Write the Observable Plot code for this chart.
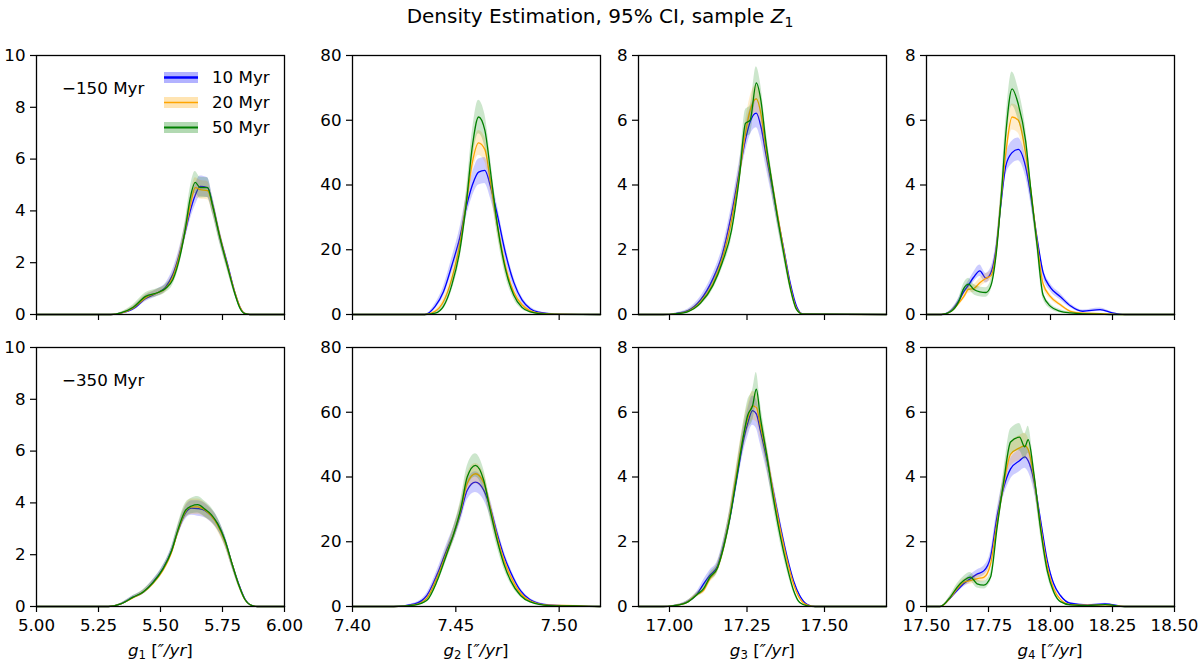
<!DOCTYPE html>
<html>
<head>
<meta charset="utf-8">
<script src="https://cdn.jsdelivr.net/npm/d3@7"></script>
<script src="https://cdn.jsdelivr.net/npm/@observablehq/plot@0.6"></script>
<style>
  body { margin: 0; background: #fff; font-family: "DejaVu Sans", sans-serif; }
  #fig { position: relative; width: 1200px; height: 661px; overflow: hidden; }
  .txt { position: absolute; font-size: 16.7px; line-height: 20px; white-space: nowrap; color: #000; }
  .title { position: absolute; left: 0; width: 1200px; top: 4px; text-align: center; font-size: 20px; line-height: 24px; }
  sub { font-size: 0.7em; vertical-align: -0.25em; line-height: 0; }
  .leg { position: absolute; height: 20px; }
</style>
</head>
<body>
<div id="fig"></div>
<script>
// series + per-panel settings
const series = ["10 Myr", "20 Myr", "50 Myr"];
const colors = ["blue", "orange", "green"];
const epochs = ["\u2212150 Myr", "\u2212350 Myr"];
const xDomains = [[5, 6], [7.4, 7.52], [16.9, 17.7], [17.5, 18.5]];
const xTicks = [[5, 5.25, 5.5, 5.75, 6], [7.4, 7.45, 7.5], [17, 17.25, 17.5], [17.5, 17.75, 18, 18.25, 18.5]];
const yDomains = [[0, 10], [0, 80], [0, 8], [0, 8]];
const yTicks = [[0, 2, 4, 6, 8, 10], [0, 20, 40, 60, 80], [0, 2, 4, 6, 8], [0, 2, 4, 6, 8]];

// ---- -150 Myr row ----
const g1_150_x = [5.0, 5.30, 5.34, 5.39, 5.44, 5.49, 5.52, 5.55, 5.58, 5.60, 5.62, 5.64, 5.66, 5.69, 5.71, 5.74, 5.77, 5.80, 5.82, 5.84, 5.86, 6.0];
const g1_150_10 = [0, 0, 0.05, 0.22, 0.62, 0.85, 1.05, 1.55, 2.45, 3.2, 4.0, 4.6, 4.95, 4.9, 4.25, 3.0, 1.95, 0.85, 0.3, 0.04, 0, 0];
const g1_150_20 = [0, 0, 0.05, 0.25, 0.65, 0.85, 1.0, 1.45, 2.4, 3.25, 4.2, 4.9, 4.82, 4.78, 4.2, 3.0, 1.9, 0.85, 0.3, 0.04, 0, 0];
const g1_150_50 = [0, 0, 0.06, 0.28, 0.7, 0.85, 1.0, 1.35, 2.3, 3.3, 4.5, 5.1, 4.9, 4.9, 4.2, 2.95, 1.85, 0.8, 0.25, 0.03, 0, 0];
const g1_150_ci10 = [0, 0, 0.03, 0.08, 0.12, 0.14, 0.15, 0.2, 0.25, 0.3, 0.35, 0.4, 0.4, 0.38, 0.32, 0.25, 0.18, 0.1, 0.05, 0.02, 0, 0];
const g1_150_ci20 = [0, 0, 0.03, 0.08, 0.12, 0.13, 0.14, 0.18, 0.24, 0.3, 0.35, 0.38, 0.36, 0.35, 0.3, 0.24, 0.17, 0.1, 0.05, 0.02, 0, 0];
const g1_150_ci50 = [0, 0, 0.03, 0.1, 0.14, 0.15, 0.16, 0.2, 0.26, 0.32, 0.4, 0.42, 0.4, 0.38, 0.32, 0.25, 0.18, 0.1, 0.05, 0.02, 0, 0];

const g2_150_x = [7.40, 7.435, 7.440, 7.444, 7.448, 7.452, 7.455, 7.458, 7.461, 7.464, 7.467, 7.470, 7.474, 7.478, 7.482, 7.486, 7.490, 7.495, 7.50, 7.52];
const g2_150_10 = [0, 0, 2.5, 7, 15, 24, 33, 40, 44, 44.5, 39, 31, 19, 10, 4.5, 1.8, 0.7, 0.3, 0.1, 0];
const g2_150_20 = [0, 0, 1.0, 4, 11, 22, 34, 47, 53, 51, 40, 28, 15, 7, 3, 1.1, 0.4, 0.2, 0.1, 0];
const g2_150_50 = [0, 0, 0.4, 2.5, 9, 20, 34, 52, 61, 57, 43, 28, 14, 6, 2.2, 0.8, 0.3, 0.1, 0.05, 0];
const g2_150_ci10 = [0, 0, 0.8, 1.5, 2.2, 2.8, 3.2, 3.6, 4, 4, 3.6, 3, 2.3, 1.6, 1, 0.6, 0.3, 0.15, 0.05, 0];
const g2_150_ci20 = [0, 0, 0.4, 1, 1.8, 2.5, 3, 3.6, 3.8, 3.8, 3.2, 2.6, 1.8, 1.1, 0.6, 0.3, 0.2, 0.1, 0.05, 0];
const g2_150_ci50 = [0, 0, 0.3, 0.9, 1.8, 2.8, 3.6, 4.6, 5.2, 5, 4.2, 3, 2, 1.2, 0.6, 0.3, 0.15, 0.05, 0.03, 0];

const g3_150_x = [16.9, 16.98, 17.02, 17.06, 17.10, 17.14, 17.17, 17.20, 17.225, 17.245, 17.26, 17.28, 17.295, 17.31, 17.33, 17.35, 17.37, 17.39, 17.41, 17.43, 17.7];
const g3_150_10 = [0, 0, 0.03, 0.12, 0.45, 1.1, 1.85, 3.1, 4.4, 5.4, 5.95, 6.22, 5.8, 5.0, 4.0, 2.95, 1.95, 0.95, 0.25, 0.02, 0];
const g3_150_20 = [0, 0, 0.02, 0.1, 0.38, 0.95, 1.7, 2.9, 4.3, 5.6, 6.3, 6.66, 6.2, 5.2, 4.1, 3.0, 1.9, 0.85, 0.18, 0.01, 0];
const g3_150_50 = [0, 0, 0.02, 0.09, 0.35, 0.9, 1.6, 2.6, 4.2, 5.9, 6.0, 7.15, 6.6, 5.4, 4.1, 2.9, 1.8, 0.8, 0.15, 0.01, 0];
const g3_150_ci10 = [0, 0, 0.02, 0.05, 0.1, 0.15, 0.2, 0.25, 0.3, 0.38, 0.42, 0.45, 0.42, 0.38, 0.32, 0.25, 0.18, 0.1, 0.04, 0.01, 0];
const g3_150_ci20 = [0, 0, 0.02, 0.04, 0.08, 0.13, 0.18, 0.25, 0.3, 0.38, 0.42, 0.42, 0.4, 0.36, 0.3, 0.24, 0.17, 0.09, 0.03, 0.01, 0];
const g3_150_ci50 = [0, 0, 0.02, 0.04, 0.08, 0.13, 0.18, 0.26, 0.32, 0.42, 0.45, 0.5, 0.46, 0.4, 0.32, 0.25, 0.17, 0.09, 0.03, 0.01, 0];

const g4_150_x = [17.5, 17.56, 17.60, 17.63, 17.65, 17.67, 17.69, 17.715, 17.74, 17.76, 17.78, 17.80, 17.82, 17.845, 17.87, 17.90, 17.92, 17.945, 17.97, 18.0, 18.04, 18.08, 18.13, 18.2, 18.25, 18.3, 18.5];
const g4_150_10 = [0, 0, 0.12, 0.42, 0.7, 0.92, 1.15, 1.35, 1.12, 1.3, 2.0, 3.4, 4.6, 5.0, 5.1, 4.55, 3.7, 2.4, 1.3, 0.83, 0.55, 0.27, 0.1, 0.15, 0.05, 0, 0];
const g4_150_20 = [0, 0, 0.1, 0.35, 0.55, 0.78, 0.8, 0.98, 1.12, 1.2, 1.9, 3.5, 5.0, 6.1, 6.0, 4.95, 3.9, 2.3, 0.95, 0.55, 0.3, 0.1, 0.04, 0.03, 0.01, 0, 0];
const g4_150_50 = [0, 0, 0.1, 0.4, 0.8, 0.94, 0.78, 0.7, 0.68, 0.9, 1.8, 3.5, 5.6, 6.97, 6.5, 5.35, 3.9, 2.2, 0.6, 0.25, 0.1, 0.05, 0.02, 0.01, 0, 0, 0];
const g4_150_ci10 = [0, 0, 0.04, 0.08, 0.1, 0.12, 0.15, 0.18, 0.15, 0.15, 0.18, 0.25, 0.3, 0.35, 0.35, 0.3, 0.25, 0.2, 0.15, 0.12, 0.1, 0.06, 0.04, 0.05, 0.02, 0, 0];
const g4_150_ci20 = [0, 0, 0.04, 0.08, 0.1, 0.12, 0.12, 0.14, 0.14, 0.15, 0.18, 0.25, 0.35, 0.4, 0.4, 0.35, 0.25, 0.18, 0.12, 0.08, 0.05, 0.03, 0.02, 0.01, 0, 0, 0];
const g4_150_ci50 = [0, 0, 0.05, 0.1, 0.15, 0.18, 0.16, 0.15, 0.15, 0.16, 0.2, 0.3, 0.42, 0.52, 0.48, 0.4, 0.3, 0.2, 0.12, 0.08, 0.05, 0.03, 0.01, 0, 0, 0, 0];

// ---- -350 Myr row ----
const g1_350_x = [5.0, 5.29, 5.34, 5.39, 5.43, 5.47, 5.51, 5.545, 5.57, 5.60, 5.625, 5.65, 5.68, 5.705, 5.73, 5.76, 5.79, 5.815, 5.84, 5.87, 5.89, 6.0];
const g1_350_10 = [0, 0, 0.1, 0.36, 0.55, 0.94, 1.46, 2.16, 2.9, 3.6, 3.8, 3.78, 3.7, 3.5, 3.2, 2.55, 1.6, 0.88, 0.3, 0.03, 0, 0];
const g1_350_20 = [0, 0, 0.1, 0.34, 0.55, 0.9, 1.4, 2.1, 2.9, 3.65, 3.85, 3.85, 3.72, 3.5, 3.15, 2.5, 1.6, 0.85, 0.28, 0.03, 0, 0];
const g1_350_50 = [0, 0, 0.1, 0.36, 0.56, 0.92, 1.45, 2.15, 2.95, 3.7, 3.88, 3.93, 3.75, 3.55, 3.2, 2.55, 1.6, 0.85, 0.28, 0.03, 0, 0];
const g1_350_ci10 = [0, 0, 0.03, 0.06, 0.08, 0.1, 0.12, 0.15, 0.2, 0.25, 0.28, 0.3, 0.28, 0.26, 0.24, 0.2, 0.15, 0.1, 0.05, 0.01, 0, 0];
const g1_350_ci20 = [0, 0, 0.03, 0.06, 0.08, 0.1, 0.12, 0.15, 0.2, 0.26, 0.3, 0.3, 0.28, 0.26, 0.24, 0.2, 0.15, 0.1, 0.05, 0.01, 0, 0];
const g1_350_ci50 = [0, 0, 0.03, 0.06, 0.09, 0.11, 0.13, 0.16, 0.22, 0.28, 0.3, 0.32, 0.3, 0.27, 0.24, 0.2, 0.15, 0.1, 0.05, 0.01, 0, 0];

const g2_350_x = [7.40, 7.42, 7.43, 7.436, 7.441, 7.4455, 7.449, 7.4525, 7.4555, 7.4595, 7.4635, 7.4668, 7.47, 7.4732, 7.4765, 7.4813, 7.486, 7.495, 7.507, 7.52];
const g2_350_10 = [0, 0, 0.8, 3.4, 10, 17.3, 22.5, 29.2, 35.9, 38.4, 35.9, 30.2, 22.5, 15.8, 10.6, 4.9, 2.1, 0.5, 0.2, 0];
const g2_350_20 = [0, 0, 0.5, 2.6, 9, 16.5, 22.5, 30, 38, 41, 38.2, 30, 21.5, 14.5, 9.3, 4.1, 1.7, 0.4, 0.3, 0];
const g2_350_50 = [0, 0, 0.4, 1.9, 8, 16, 22.5, 30.5, 40, 43.6, 39, 29.2, 20.4, 13.2, 8, 3.4, 1.4, 0.3, 0.15, 0];
const g2_350_ci10 = [0, 0, 0.3, 0.8, 1.3, 1.8, 2.2, 2.6, 3, 3.2, 3, 2.6, 2.1, 1.6, 1.2, 0.7, 0.4, 0.15, 0.05, 0];
const g2_350_ci20 = [0, 0, 0.2, 0.6, 1.1, 1.7, 2.1, 2.6, 3, 3.2, 3, 2.5, 2, 1.4, 1, 0.6, 0.3, 0.1, 0.1, 0];
const g2_350_ci50 = [0, 0, 0.2, 0.6, 1.2, 1.8, 2.3, 2.8, 3.3, 3.6, 3.3, 2.7, 2.1, 1.5, 1, 0.5, 0.3, 0.1, 0.05, 0];

const g3_350_x = [16.9, 16.98, 17.01, 17.055, 17.09, 17.11, 17.13, 17.155, 17.175, 17.195, 17.215, 17.24, 17.252, 17.268, 17.28, 17.293, 17.315, 17.336, 17.358, 17.38, 17.40, 17.42, 17.445, 17.47, 17.7];
const g3_350_10 = [0, 0, 0.02, 0.13, 0.4, 0.7, 0.96, 1.25, 1.9, 2.75, 3.85, 5.2, 5.65, 6.05, 5.95, 5.44, 4.5, 3.5, 2.45, 1.5, 0.8, 0.34, 0.06, 0, 0];
const g3_350_20 = [0, 0, 0.02, 0.12, 0.38, 0.5, 0.85, 1.2, 1.85, 2.8, 4.0, 5.35, 5.8, 6.2, 6.15, 5.6, 4.6, 3.45, 2.35, 1.4, 0.7, 0.25, 0.04, 0, 0];
const g3_350_50 = [0, 0, 0.02, 0.12, 0.38, 0.55, 0.9, 1.2, 1.85, 2.75, 3.9, 5.35, 5.9, 6.2, 6.71, 5.85, 4.6, 3.3, 2.14, 1.2, 0.5, 0.12, 0.02, 0, 0];
const g3_350_ci10 = [0, 0, 0.01, 0.04, 0.08, 0.12, 0.15, 0.16, 0.2, 0.25, 0.3, 0.38, 0.42, 0.45, 0.45, 0.42, 0.36, 0.3, 0.24, 0.17, 0.1, 0.05, 0.02, 0, 0];
const g3_350_ci20 = [0, 0, 0.01, 0.04, 0.07, 0.1, 0.13, 0.15, 0.2, 0.25, 0.3, 0.38, 0.42, 0.44, 0.44, 0.4, 0.35, 0.28, 0.2, 0.14, 0.08, 0.04, 0.01, 0, 0];
const g3_350_ci50 = [0, 0, 0.01, 0.04, 0.07, 0.1, 0.13, 0.15, 0.2, 0.26, 0.32, 0.4, 0.45, 0.48, 0.52, 0.45, 0.36, 0.28, 0.2, 0.13, 0.07, 0.03, 0.01, 0, 0];

const g4_350_x = [17.5, 17.555, 17.597, 17.624, 17.65, 17.677, 17.704, 17.731, 17.758, 17.785, 17.812, 17.839, 17.875, 17.896, 17.91, 17.933, 17.96, 17.987, 18.013, 18.04, 18.08, 18.15, 18.22, 18.3, 18.5];
const g4_350_10 = [0, 0, 0.27, 0.5, 0.7, 0.86, 1.0, 1.1, 1.52, 2.8, 3.7, 4.25, 4.5, 4.62, 4.5, 3.9, 2.66, 1.42, 0.7, 0.34, 0.1, 0.05, 0.08, 0, 0];
const g4_350_20 = [0, 0, 0.28, 0.55, 0.75, 0.8, 0.86, 0.9, 1.3, 2.6, 3.8, 4.7, 4.9, 4.97, 4.85, 4.0, 2.5, 1.25, 0.55, 0.22, 0.06, 0.04, 0.05, 0, 0];
const g4_350_50 = [0, 0, 0.3, 0.6, 0.8, 0.91, 0.7, 0.66, 0.9, 2.46, 3.9, 5.08, 5.23, 4.93, 5.15, 4.1, 2.4, 1.1, 0.45, 0.15, 0.05, 0.03, 0.06, 0, 0];
const g4_350_ci10 = [0, 0, 0.05, 0.08, 0.1, 0.12, 0.13, 0.14, 0.16, 0.22, 0.28, 0.32, 0.34, 0.35, 0.34, 0.3, 0.22, 0.15, 0.08, 0.04, 0.02, 0.01, 0.02, 0, 0];
const g4_350_ci20 = [0, 0, 0.05, 0.08, 0.1, 0.11, 0.12, 0.13, 0.15, 0.22, 0.3, 0.36, 0.38, 0.38, 0.36, 0.3, 0.2, 0.12, 0.06, 0.03, 0.01, 0.01, 0.01, 0, 0];
const g4_350_ci50 = [0, 0, 0.06, 0.1, 0.13, 0.14, 0.13, 0.12, 0.14, 0.22, 0.32, 0.4, 0.42, 0.4, 0.42, 0.34, 0.22, 0.12, 0.06, 0.03, 0.01, 0.01, 0.01, 0, 0];

const panels = [
  {row: 0, col: 0, x: g1_150_x, y: [g1_150_10, g1_150_20, g1_150_50], ci: [g1_150_ci10, g1_150_ci20, g1_150_ci50]},
  {row: 0, col: 1, x: g2_150_x, y: [g2_150_10, g2_150_20, g2_150_50], ci: [g2_150_ci10, g2_150_ci20, g2_150_ci50]},
  {row: 0, col: 2, x: g3_150_x, y: [g3_150_10, g3_150_20, g3_150_50], ci: [g3_150_ci10, g3_150_ci20, g3_150_ci50]},
  {row: 0, col: 3, x: g4_150_x, y: [g4_150_10, g4_150_20, g4_150_50], ci: [g4_150_ci10, g4_150_ci20, g4_150_ci50]},
  {row: 1, col: 0, x: g1_350_x, y: [g1_350_10, g1_350_20, g1_350_50], ci: [g1_350_ci10, g1_350_ci20, g1_350_ci50]},
  {row: 1, col: 1, x: g2_350_x, y: [g2_350_10, g2_350_20, g2_350_50], ci: [g2_350_ci10, g2_350_ci20, g2_350_ci50]},
  {row: 1, col: 2, x: g3_350_x, y: [g3_350_10, g3_350_20, g3_350_50], ci: [g3_350_ci10, g3_350_ci20, g3_350_ci50]},
  {row: 1, col: 3, x: g4_350_x, y: [g4_350_10, g4_350_20, g4_350_50], ci: [g4_350_ci10, g4_350_ci20, g4_350_ci50]},
];

// layout (px)
let fig = d3.select("#fig");
const colLeft = [36.4, 352, 638.3, 926];
const rowTop = [55, 347];
const wPanel = 248, hPanel = 259;
const ML = 46, MR = 6, MT = 6, MB = 30;

fig.append("div").attr("class", "title")
  .html("Density Estimation, 95% CI, sample <i>Z</i><sub>1</sub>");

function createPanel(p) {
  let marks = [];
  series.forEach((s, k) => {
    let rows = p.x.map((x, i) => ({
      x: x,
      y: p.y[k][i],
      lo: Math.max(0, p.y[k][i] - p.ci[k][i]),
      hi: p.y[k][i] + p.ci[k][i],
    }));
    marks.push(Plot.areaY(rows, {x: "x", y1: "lo", y2: "hi", fill: colors[k], fillOpacity: 0.2, curve: "monotone-x"}));
    marks.push(Plot.line(rows, {x: "x", y: "y", stroke: colors[k], strokeWidth: 1.3, curve: "monotone-x"}));
  });
  marks.push(
    Plot.axisX({
      ticks: xTicks[p.col],
      tickFormat: p.row === 0 ? () => "" : d3.format(".2f"),
      tickSize: 6,
      tickPadding: 7,
      strokeWidth: 1.2,
      label: null,
    }),
    Plot.axisY({
      ticks: yTicks[p.col],
      tickSize: 6,
      tickPadding: 5,
      strokeWidth: 1.2,
      label: null,
    }),
    Plot.frame({stroke: "black", strokeWidth: 1.3}),
  );

  let chart = Plot.plot({
    width: wPanel + ML + MR,
    height: hPanel + MT + MB,
    marginLeft: ML,
    marginRight: MR,
    marginTop: MT,
    marginBottom: MB,
    x: {domain: xDomains[p.col]},
    y: {domain: yDomains[p.col]},
    marks: marks,
    style: {
      fontSize: "16.7px",
      fontFamily: "DejaVu Sans",
      color: "black",
      background: "transparent",
      overflow: "visible",
      position: "absolute",
      left: (colLeft[p.col] - ML) + "px",
      top: (rowTop[p.row] - MT) + "px",
    },
  });
  fig.append(() => chart);
}

panels.forEach(createPanel);

// x axis titles under the bottom row
[1, 2, 3, 4].forEach((n, c) => {
  fig.append("div").attr("class", "txt")
    .style("left", colLeft[c] + "px")
    .style("width", wPanel + "px")
    .style("text-align", "center")
    .style("top", "640px")
    .html(`<i>g</i><sub>${n}</sub> [<i>\u2033/yr</i>]`);
});

// epoch labels
epochs.forEach((e, r) => {
  fig.append("div").attr("class", "txt")
    .style("left", "62px")
    .style("top", (rowTop[r] + 23) + "px")
    .text(e);
});

// legend in the first panel
const legW = [2.5, 1.3, 2];
series.forEach((s, k) => {
  let row = fig.append("div").attr("class", "leg")
    .style("left", "164px")
    .style("top", (67 + k * 25) + "px");
  let svg = row.append("svg").attr("width", 34).attr("height", 20)
    .style("position", "absolute").style("left", "0px").style("top", "0px");
  svg.append("rect").attr("x", 0).attr("y", 5).attr("width", 34).attr("height", 11)
    .attr("fill", colors[k]).attr("fill-opacity", 0.3);
  svg.append("line").attr("x1", 0).attr("x2", 34).attr("y1", 10.5).attr("y2", 10.5)
    .attr("stroke", colors[k]).attr("stroke-width", legW[k]);
  row.append("div").attr("class", "txt")
    .style("left", "48px").style("top", "0px")
    .text(s);
});
</script>
</body>
</html>
